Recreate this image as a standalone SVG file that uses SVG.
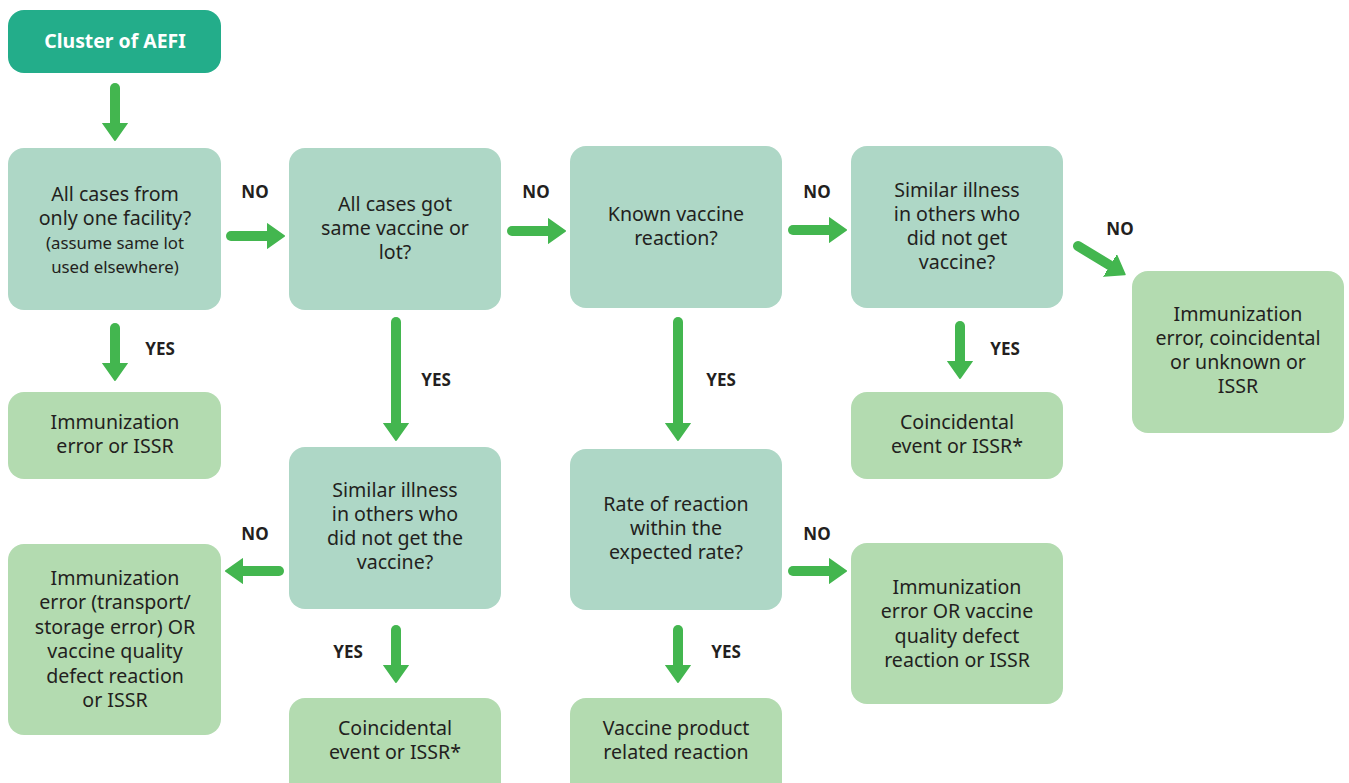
<svg xmlns="http://www.w3.org/2000/svg" width="1349" height="783" viewBox="0 0 1349 783">
<defs>
<marker id="ah" markerUnits="userSpaceOnUse" markerWidth="20" markerHeight="28" refX="1" refY="13" orient="auto">
<path d="M0,1 L17,13 L0,25 Z" fill="#43b64f" stroke="#43b64f" stroke-width="2" stroke-linejoin="round"/>
</marker>
</defs>
<style>
.start{fill:#23ad8a}
.q{fill:#aed7c6}
.r{fill:#b3dbb0}
text{font-family:"Noto Sans","Open Sans","DejaVu Sans",sans-serif;fill:#231f20;text-anchor:middle}
.t{font-size:19.6px}
.s{font-size:16.8px}
.w{fill:#ffffff;font-weight:bold;font-size:19.4px}
.lbl{font-weight:bold;font-size:17px}
.c line{stroke:#43b64f;stroke-width:10;stroke-linecap:round;marker-end:url(#ah)}
</style>
<g id="n-start"><rect class="start" x="8" y="10" width="213" height="63" rx="16"/><text class="w" x="115" y="48">Cluster of AEFI</text></g>
<g id="n-q1"><rect class="q" x="8" y="148" width="213" height="162" rx="16"/>
<text class="t" x="115" y="201">All cases from</text><text class="t" x="115" y="225">only one facility?</text>
<text class="s" x="115" y="249">(assume same lot</text><text class="s" x="115" y="273">used elsewhere)</text></g>
<g id="n-q2"><rect class="q" x="289" y="148" width="212" height="162" rx="16"/>
<text class="t" x="395" y="211">All cases got</text><text class="t" x="395" y="235">same vaccine or</text><text class="t" x="395" y="259">lot?</text></g>
<g id="n-q3"><rect class="q" x="570" y="146" width="212" height="162" rx="16"/>
<text class="t" x="676" y="221">Known vaccine</text><text class="t" x="676" y="245">reaction?</text></g>
<g id="n-q4"><rect class="q" x="851" y="146" width="212" height="162" rx="16"/>
<text class="t" x="957" y="197">Similar illness</text><text class="t" x="957" y="221">in others who</text><text class="t" x="957" y="245">did not get</text><text class="t" x="957" y="269">vaccine?</text></g>
<g id="n-r5"><rect class="r" x="1132" y="271" width="212" height="162" rx="16"/>
<text class="t" x="1238" y="321">Immunization</text><text class="t" x="1238" y="345">error, coincidental</text><text class="t" x="1238" y="369">or unknown or</text><text class="t" x="1238" y="393">ISSR</text></g>
<g id="n-r1"><rect class="r" x="8" y="392" width="213" height="87" rx="16"/>
<text class="t" x="115" y="429">Immunization</text><text class="t" x="115" y="453">error or ISSR</text></g>
<g id="n-q5"><rect class="q" x="289" y="447" width="212" height="162" rx="16"/>
<text class="t" x="395" y="497">Similar illness</text><text class="t" x="395" y="521">in others who</text><text class="t" x="395" y="545">did not get the</text><text class="t" x="395" y="569">vaccine?</text></g>
<g id="n-q6"><rect class="q" x="570" y="449" width="212" height="161" rx="16"/>
<text class="t" x="676" y="511">Rate of reaction</text><text class="t" x="676" y="535">within the</text><text class="t" x="676" y="559">expected rate?</text></g>
<g id="n-r4"><rect class="r" x="851" y="392" width="212" height="87" rx="16"/>
<text class="t" x="957" y="429">Coincidental</text><text class="t" x="957" y="453">event or ISSR*</text></g>
<g id="n-r2"><rect class="r" x="8" y="544" width="213" height="191" rx="16"/>
<text class="t" x="115" y="585">Immunization</text><text class="t" x="115" y="609">error (transport/</text><text class="t" x="115" y="634">storage error) OR</text><text class="t" x="115" y="658">vaccine quality</text><text class="t" x="115" y="683">defect reaction</text><text class="t" x="115" y="707">or ISSR</text></g>
<g id="n-r7"><rect class="r" x="851" y="543" width="212" height="161" rx="16"/>
<text class="t" x="957" y="594">Immunization</text><text class="t" x="957" y="618">error OR vaccine</text><text class="t" x="957" y="643">quality defect</text><text class="t" x="957" y="667">reaction or ISSR</text></g>
<g id="n-r3"><rect class="r" x="289" y="698" width="212" height="100" rx="16"/>
<text class="t" x="395" y="735">Coincidental</text><text class="t" x="395" y="759">event or ISSR*</text></g>
<g id="n-r6"><rect class="r" x="570" y="698" width="212" height="100" rx="16"/>
<text class="t" x="676" y="735">Vaccine product</text><text class="t" x="676" y="759">related reaction</text></g>
<g id="connectors" class="c">
<line x1="115" y1="88" x2="115" y2="124"/>
<line x1="231" y1="236" x2="268" y2="236"/>
<line x1="115" y1="328" x2="115" y2="364"/>
<line x1="396" y1="322" x2="396" y2="424"/>
<line x1="512" y1="231" x2="549" y2="231"/>
<line x1="678" y1="322" x2="678" y2="424"/>
<line x1="793" y1="230" x2="830" y2="230"/>
<line x1="960" y1="326" x2="960" y2="362"/>
<line x1="1078" y1="246" x2="1111" y2="266"/>
<line x1="279" y1="571" x2="242" y2="571"/>
<line x1="396" y1="630" x2="396" y2="666"/>
<line x1="793" y1="571" x2="830" y2="571"/>
<line x1="678" y1="630" x2="678" y2="666"/>
</g>
<g id="labels">
<text class="lbl" x="255" y="198">NO</text>
<text class="lbl" x="536" y="198">NO</text>
<text class="lbl" x="817" y="198">NO</text>
<text class="lbl" x="1120" y="235">NO</text>
<text class="lbl" x="160" y="355">YES</text>
<text class="lbl" x="436" y="386">YES</text>
<text class="lbl" x="721" y="386">YES</text>
<text class="lbl" x="1005" y="355">YES</text>
<text class="lbl" x="255" y="540">NO</text>
<text class="lbl" x="817" y="540">NO</text>
<text class="lbl" x="348" y="658">YES</text>
<text class="lbl" x="726" y="658">YES</text>
</g>
</svg>
